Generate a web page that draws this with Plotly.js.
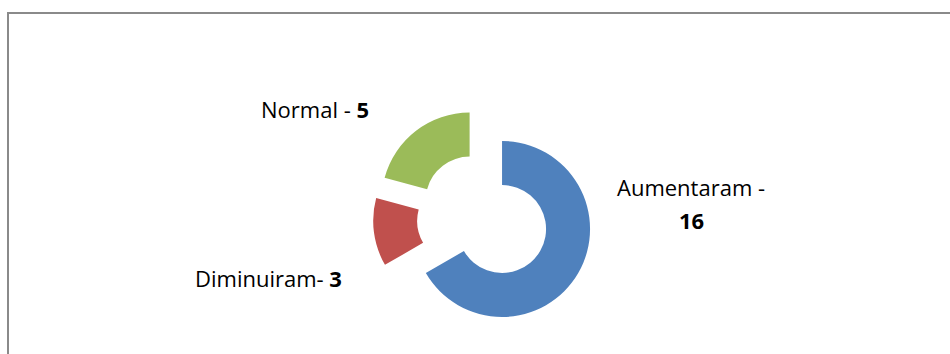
<!DOCTYPE html>
<html>
<head>
<meta charset="utf-8">
<script src="https://cdn.plot.ly/plotly-3.0.1.min.js"></script>
<style>html,body{margin:0;padding:0;background:#fff;}#chart{width:950px;height:354px;}</style>
</head>
<body>
<div id="chart"></div>
<script>
// Data
const categories = ["Aumentaram", "Diminuiram", "Normal"];
const values = [16, 3, 5];
const labelPrefix = ["Aumentaram -", "Diminuiram-", "Normal -"];
const colors = ["#4F81BD", "#C0504D", "#9BBB59"];

const W = 950, H = 354;
const px = x => x / W;
const py = y => 1 - y / H;
const fontFam = "Open Sans, sans-serif";
const fs = 22;

const trace = {
  type: "pie",
  labels: categories,
  values: values,
  sort: false,
  direction: "clockwise",
  rotation: 0,
  hole: 0.5,
  pull: [0.25, 0.25, 0.25],
  marker: {colors: colors, line: {width: 0}},
  textinfo: "none",
  hoverinfo: "label+value",
  showlegend: false,
  domain: {x: [px(373), px(593)], y: [py(328), py(108)]}
};

const annotations = [
  {x: px(691), y: py(187), text: labelPrefix[0]},
  {x: px(691), y: py(220), text: "<b>" + values[0] + "</b>"},
  {x: px(268), y: py(278), text: labelPrefix[1] + " <b>" + values[1] + "</b>"},
  {x: px(315), y: py(109), text: labelPrefix[2] + " <b>" + values[2] + "</b>"}
].map(a => Object.assign({
  xref: "paper", yref: "paper", xanchor: "center", yanchor: "middle",
  showarrow: false, font: {family: fontFam, size: fs, color: "#000"}
}, a));

const shapes = [
  {type: "path", xref: "paper", yref: "paper",
   path: "M " + px(8) + " " + py(354) + " L " + px(8) + " " + py(13) + " L " + px(950) + " " + py(13),
   line: {color: "#8a8a8a", width: 2}}
];

const layout = {
  width: W, height: H,
  margin: {l: 0, r: 0, t: 0, b: 0},
  paper_bgcolor: "#ffffff",
  plot_bgcolor: "#ffffff",
  annotations: annotations,
  shapes: shapes,
  font: {family: fontFam}
};

Plotly.newPlot("chart", [trace], layout, {displayModeBar: false, staticPlot: true});
</script>
</body>
</html>
